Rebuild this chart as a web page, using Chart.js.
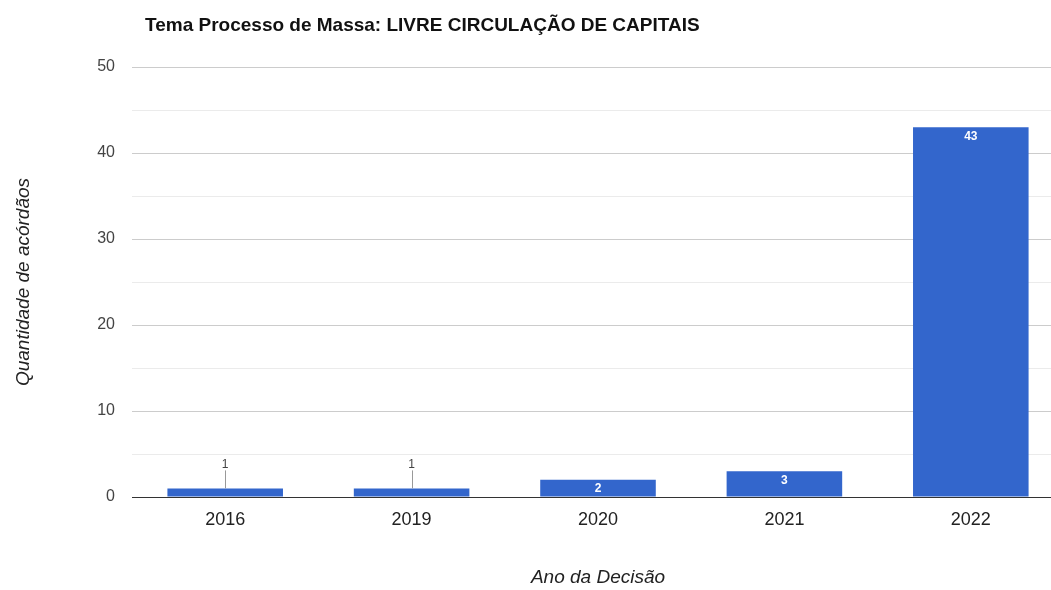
<!DOCTYPE html>
<html>
<head>
<meta charset="utf-8">
<script src="https://cdn.jsdelivr.net/npm/chart.js@4.4.0/dist/chart.umd.min.js"></script>
<style>
html,body{margin:0;padding:0;background:#fff;overflow:hidden;width:1051px;height:590px;}
canvas{display:block;}
</style>
</head>
<body>
<canvas id="c" width="1068" height="590" style="width:1068px;height:590px"></canvas>
<script>
const chartTitle = 'Tema Processo de Massa: LIVRE CIRCULAÇÃO DE CAPITAIS';
const categories = ['2016', '2019', '2020', '2021', '2022'];
const values = [1, 1, 2, 3, 43];
const yTitle = 'Quantidade de acórdãos';
const xTitle = 'Ano da Decisão';
const yMax = 50;

const FONT = "'Liberation Sans', Arial, sans-serif";

const labelPlugin = {
  id: 'barLabels',
  afterDatasetsDraw(chart) {
    const ctx = chart.ctx;
    const meta = chart.getDatasetMeta(0);
    ctx.save();
    ctx.textAlign = 'center';
    ctx.textBaseline = 'middle';
    meta.data.forEach((bar, i) => {
      const v = values[i];
      const h = bar.base - bar.y;
      if (h >= 15) {
        ctx.fillStyle = '#ffffff';
        ctx.font = 'bold 12px ' + FONT;
        ctx.fillText(String(v), bar.x, bar.y + 9);
      } else {
        ctx.strokeStyle = '#999999';
        ctx.lineWidth = 1;
        ctx.beginPath();
        ctx.moveTo(Math.round(bar.x) + 0.5, bar.y);
        ctx.lineTo(Math.round(bar.x) + 0.5, bar.y - 18);
        ctx.stroke();
        ctx.fillStyle = '#444444';
        ctx.font = '12px ' + FONT;
        ctx.fillText(String(v), bar.x, bar.y - 24);
      }
    });
    ctx.restore();
  },
  afterDraw(chart) {
    const ctx = chart.ctx;
    ctx.save();
    ctx.fillStyle = '#111';
    ctx.font = 'bold 19px ' + FONT;
    ctx.textAlign = 'left';
    ctx.textBaseline = 'alphabetic';
    ctx.fillText(chartTitle, 145, 31);
    ctx.restore();
  }
};

new Chart(document.getElementById('c'), {
  type: 'bar',
  data: {
    labels: categories,
    datasets: [{
      data: values,
      backgroundColor: '#3366cc',
      borderWidth: 0,
      categoryPercentage: 0.62,
      barPercentage: 1.0
    }]
  },
  options: {
    responsive: false,
    animation: false,
    layout: { padding: { left: 0, top: 67, right: 4, bottom: 0 } },
    plugins: { legend: { display: false }, tooltip: { enabled: false }, title: { display: false } },
    scales: {
      x: {
        grid: { display: false, drawTicks: false },
        border: { display: false },
        ticks: { color: '#222', font: { family: FONT, size: 18 }, padding: 12 },
        title: { display: true, text: xTitle, color: '#222', font: { family: FONT, size: 19, style: 'italic' }, padding: { top: 0, bottom: 1 } },
        afterFit(s) { s.height = 93; }
      },
      y: {
        min: 0, max: yMax,
        grid: {
          drawTicks: false,
          color: (c) => c.tick.value === 0 ? '#333333' : (c.tick.value % 10 === 0 ? '#cccccc' : '#ebebeb'),
          lineWidth: 1
        },
        border: { display: false },
        ticks: {
          stepSize: 5,
          color: '#444',
          font: { family: FONT, size: 16 },
          padding: 17,
          callback: (v) => v % 10 === 0 ? String(v) : ''
        },
        title: { display: true, text: yTitle, color: '#222', font: { family: FONT, size: 19, style: 'italic' }, padding: { top: 12, bottom: 0 } },
        afterFit(s) { s.width = 132; }
      }
    }
  },
  plugins: [labelPlugin]
});
</script>
</body>
</html>
